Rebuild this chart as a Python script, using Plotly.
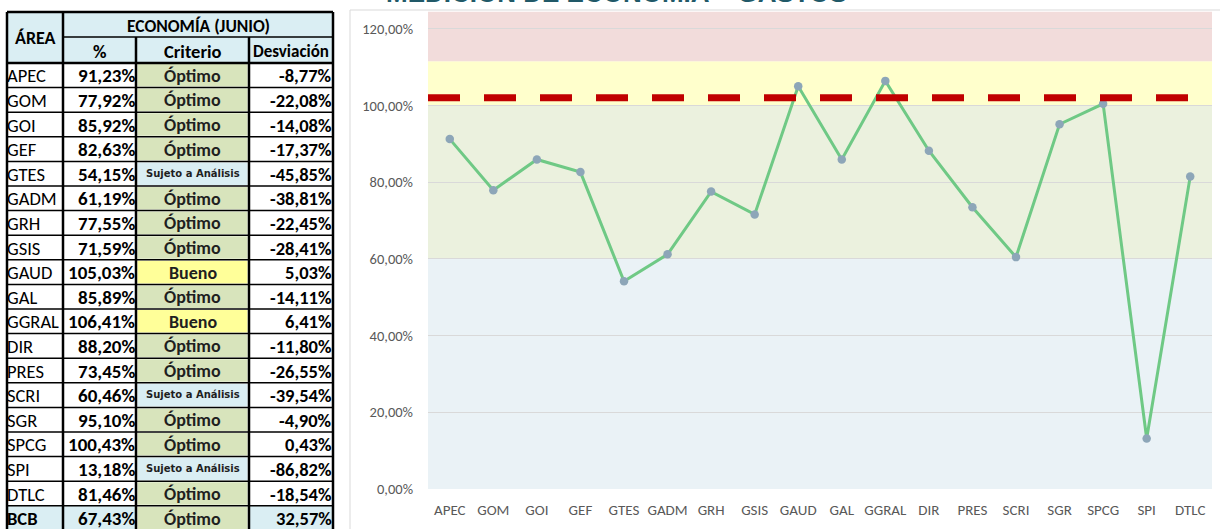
import plotly.graph_objects as go

# ---------------- data ----------------
areas = ["APEC", "GOM", "GOI", "GEF", "GTES", "GADM", "GRH", "GSIS", "GAUD",
         "GAL", "GGRAL", "DIR", "PRES", "SCRI", "SGR", "SPCG", "SPI", "DTLC"]
pct = [91.23, 77.92, 85.92, 82.63, 54.15, 61.19, 77.55, 71.59, 105.03,
       85.89, 106.41, 88.20, 73.45, 60.46, 95.10, 100.43, 13.18, 81.46]
criterio = ["Óptimo", "Óptimo", "Óptimo", "Óptimo", "Sujeto a Análisis", "Óptimo",
            "Óptimo", "Óptimo", "Bueno", "Óptimo", "Bueno", "Óptimo", "Óptimo",
            "Sujeto a Análisis", "Óptimo", "Óptimo", "Sujeto a Análisis", "Óptimo"]
desviacion = [-8.77, -22.08, -14.08, -17.37, -45.85, -38.81, -22.45, -28.41, 5.03,
              -14.11, 6.41, -11.80, -26.55, -39.54, -4.90, 0.43, -86.82, -18.54]
total_area = "BCB"
total_pct = 67.43
total_criterio = "Óptimo"
total_desv = 32.57

band_edges = [0, 60, 100, 111.5, 124.5]      # bands: análisis / óptimo / bueno / exceso
umbral = 102                                  # dashed reference line

title_text = "MEDICIÓN DE ECONOMÍA – GASTOS"
table_title = "ECONOMÍA (JUNIO)"
col_headers = ["%", "Criterio", "Desviación"]

# ---------------- styles ----------------
W, H = 1220, 529
TW = 345  # table area width
band_colors = ["#EAF2F6", "#EBF1DE", "#FFFFCC", "#F2DCDB"]
crit_colors = {"Óptimo": "#D8E4BC", "Bueno": "#FFFF99", "Sujeto a Análisis": "#DAEEF3"}
hdr_fill = "#DAEEF3"
TFONT = "Carlito, Lato, sans-serif"


def fmt(v):
    return f"{v:.2f}".replace(".", ",") + "%"


fig = go.Figure()

# line chart
fig.add_trace(go.Scatter(
    x=areas, y=pct, mode="lines+markers",
    line=dict(color="#6FC985", width=3),
    marker=dict(size=8.5, color="#8DA6B8"),
    xaxis="x", yaxis="y", showlegend=False, hoverinfo="skip"))
# invisible trace to anchor table axes
fig.add_trace(go.Scatter(x=[0], y=[0], mode="markers", marker=dict(opacity=0),
                         xaxis="x2", yaxis="y2", showlegend=False, hoverinfo="skip"))

shapes = []
annotations = []

# bands
for i, c in enumerate(band_colors):
    shapes.append(dict(type="rect", xref="x domain", yref="y", x0=0, x1=1,
                       y0=band_edges[i], y1=band_edges[i + 1],
                       fillcolor=c, line=dict(width=0), layer="below"))
# dashed threshold
shapes.append(dict(type="line", xref="x domain", yref="y", x0=0, x1=1,
                   y0=umbral, y1=umbral,
                   line=dict(color="#C00000", width=7, dash="32px,24px"), layer="above"))
# chart frame
shapes.append(dict(type="rect", xref="paper", yref="paper",
                   x0=350 / W, x1=1.01, y0=-0.05, y1=1 - 10 / H,
                   line=dict(color="#D9D9D9", width=1), fillcolor="rgba(0,0,0,0)", layer="below"))

annotations.append(dict(text=f"<b>{title_text}</b>", xref="paper", yref="paper",
                        x=616 / W, y=1 - 10 / H, xanchor="center", yanchor="bottom",
                        showarrow=False,
                        font=dict(family="Liberation Sans, Arial", size=26, color="#215968")))

# ---------------- table ----------------
cx = [7, 63, 136, 249, 333]   # column edges
top, mid, hb = 12, 37, 63      # header geometry
rh = 24.6                      # row height

rows = [(a, p, c, d) for a, p, c, d in zip(areas, pct, criterio, desviacion)]
rows.append((total_area, total_pct, total_criterio, total_desv))
n = len(rows)
bottom = hb + n * rh


def rect(x0, x1, y0, y1, fill):
    shapes.append(dict(type="rect", xref="x2", yref="y2", x0=x0, x1=x1, y0=y0, y1=y1,
                       fillcolor=fill, line=dict(width=0), layer="above"))


def line(x0, y0, x1, y1, w):
    shapes.append(dict(type="line", xref="x2", yref="y2", x0=x0, x1=x1, y0=y0, y1=y1,
                       line=dict(color="black", width=w), layer="above"))


def txt(s, x, y, anchor="center", size=19, bold=True, family=TFONT, color="black"):
    annotations.append(dict(text=(f"<b>{s}</b>" if bold else s), xref="x2", yref="y2",
                            x=x, y=y, xanchor=anchor, yanchor="middle", showarrow=False,
                            font=dict(family=family, size=size, color=color)))


# header fills
rect(cx[0], cx[4], top, hb, hdr_fill)
# data fills
for i, (a, p, c, d) in enumerate(rows):
    y0 = hb + i * rh
    y1 = y0 + rh
    if i == n - 1:
        rect(cx[0], cx[2], y0, y1, hdr_fill)
        rect(cx[3], cx[4], y0, y1, hdr_fill)
    rect(cx[2] + 1.5, cx[3] - 1.5, y0 + 1, y1 - 1, crit_colors[c])

# lines
line(cx[0], top, cx[4], top, 2.5)
line(cx[1], mid, cx[4], mid, 1.5)
line(cx[0], hb, cx[4], hb, 2.5)
for i in range(1, n):
    line(cx[0], hb + i * rh, cx[4], hb + i * rh, 1.5)
line(cx[0], top, cx[0], bottom, 2.5)
line(cx[1], top, cx[1], bottom, 2.5)
line(cx[2], mid, cx[2], bottom, 2.5)
line(cx[3], mid, cx[3], bottom, 2.5)
line(cx[4], top, cx[4], bottom, 2.5)

# header texts
txt("ÁREA", (cx[0] + cx[1]) / 2, (top + hb) / 2, size=18)
txt(table_title, (cx[1] + cx[4]) / 2, (top + mid) / 2 + 1, size=17.5)
for j, h in enumerate(col_headers):
    txt(h, (cx[j + 1] + cx[j + 2]) / 2, (mid + hb) / 2 + 1, size=(17 if j == 2 else 18.5))

for i, (a, p, c, d) in enumerate(rows):
    yc = hb + (i + 0.5) * rh + 0.5
    last = i == n - 1
    txt(a, cx[0] - 2, yc, anchor="left", size=18.5, bold=last)
    txt(fmt(p), cx[2] + 1, yc, anchor="right", size=19)
    if c == "Sujeto a Análisis":
        txt(c, (cx[2] + cx[3]) / 2, yc - 1, size=10, family="DejaVu Sans", color="#1F1F1F")
    else:
        txt(c, (cx[2] + cx[3]) / 2, yc, size=18, color="#1F1F1F")
    txt(fmt(d), cx[4] + 1, yc, anchor="right", size=18.5)

fig.update_layout(
    width=W, height=H, margin=dict(l=0, r=0, t=0, b=0, pad=0, autoexpand=False),
    paper_bgcolor="white", plot_bgcolor="white",
    separators=",.",
    shapes=shapes, annotations=annotations,
    xaxis=dict(domain=[428 / W, 1212 / W], range=[-0.5, 17.5], showgrid=False,
               zeroline=False, showline=False, ticks="", automargin=False,
               tickfont=dict(family=TFONT, size=15, color="#595959"),
               ticklabelstandoff=10, anchor="y"),
    yaxis=dict(domain=[(H - 489) / H, (H - 11.5) / H], range=[0, 124.5],
               tick0=0, dtick=20, tickformat=".2f", ticksuffix="%",
               showgrid=True, gridcolor="#D9D9D9", gridwidth=1, zeroline=False,
               ticks="", automargin=False,
               tickfont=dict(family=TFONT, size=14.5, color="#595959"),
               ticklabelstandoff=14, anchor="x"),
    xaxis2=dict(domain=[0, TW / W], range=[0, TW], visible=False, anchor="y2", automargin=False),
    yaxis2=dict(domain=[0, 1], range=[H, 0], visible=False, anchor="x2", automargin=False),
)

fig.write_html("out.html", config={"displayModeBar": False},
               post_script="document.body.style.margin='0';document.body.style.overflow='hidden';")
